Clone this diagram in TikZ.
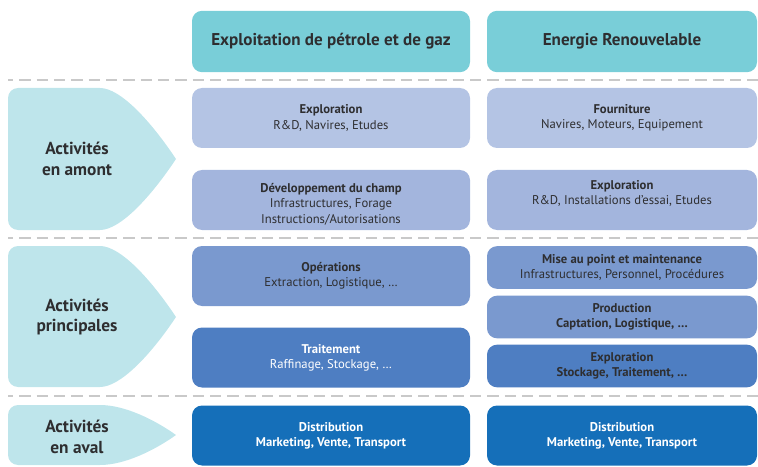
\documentclass[tikz,border=0pt]{standalone}
\usepackage{fontspec}
\setmainfont{PT Sans}
\definecolor{headcol}{HTML}{79CED8}
\definecolor{actcol}{HTML}{BEE5EB}
\definecolor{lvlA}{HTML}{B4C4E4}
\definecolor{lvlB}{HTML}{A3B5DD}
\definecolor{lvlC}{HTML}{7A99CF}
\definecolor{lvlD}{HTML}{4E7EC2}
\definecolor{lvlE}{HTML}{156FB9}
\definecolor{darktext}{HTML}{2E2E30}
\definecolor{sepgray}{HTML}{C9C9C9}

\begin{document}
\begin{tikzpicture}[x=0.75pt,y=-0.75pt,
  box node/.style={rounded corners=7.5pt,align=center,inner sep=2pt,text=darktext,
    font=\fontsize{9.5}{11.4}\selectfont},
  oil node/.style={box node,minimum width=208.5pt},
  ren node/.style={box node,minimum width=202.5pt},
  big node/.style={minimum height=45pt},
  small node/.style={minimum height=32pt},
  head node/.style={box node,fill=headcol,minimum height=46pt,
    font=\bfseries\fontsize{12.8}{15}\selectfont},
  act node/.style={align=center,text=darktext,font=\bfseries\fontsize{13}{15.5}\selectfont},
  sep line/.style={draw=sepgray,line width=1.2pt,dash pattern=on 8.5pt off 4.5pt,dash phase=4.5pt}]
  \useasboundingbox (0,0) rectangle (758,467);
  % separators
  \draw[sep line] (8,80) -- (758,80);
  \draw[sep line] (8,238) -- (758,238);
  \draw[sep line] (8,396) -- (758,396);
  % left arrows
  \fill[actcol] (100,88) .. controls (120,88) and (150,120) .. (176,159)
    .. controls (150,198) and (120,230) .. (100,230)
    [rounded corners=7.5pt] -- (8,230) -- (8,88) -- (100,88);
  \fill[actcol] (100,246) .. controls (120,246) and (150,278) .. (176,317)
    .. controls (150,356) and (120,387) .. (100,387)
    [rounded corners=7.5pt] -- (8,387) -- (8,246) -- (100,246);
  \fill[actcol] (100,405) .. controls (125,405) and (155,420) .. (176,435)
    .. controls (155,450) and (125,465) .. (100,465)
    [rounded corners=7.5pt] -- (8,465) -- (8,405) -- (100,405);
  \node[act node] (amont) at (77,159) {Activités\\en amont};
  \node[act node] (princ) at (77,317) {Activités\\principales};
  \node[act node] (aval)  at (77,437) {Activités\\en aval};
  % headers
  \node[head node,minimum width=208.5pt] (oil) at (331,41.5) {Exploitation de pétrole et de gaz};
  \node[head node,minimum width=202.5pt] (ren) at (622,41.5) {Energie Renouvelable};
  % oil & gas column
  \node[oil node,big node,fill=lvlA] (explo) at (331,118)
    {\textbf{Exploration}\\R\&D, Navires, Etudes};
  \node[oil node,big node,fill=lvlB] (dev) at (331,200) {};
  \node[box node] (devtext) at ([yshift=-3.2pt]dev.center)
    {\textbf{Développement du champ}\\Infrastructures, Forage\\Instructions/Autorisations};
  \node[oil node,big node,fill=lvlC] (oper) at (331,276)
    {\textbf{Opérations}\\Extraction, Logistique, …};
  \node[oil node,big node,fill=lvlD,text=white] (trait) at (331,357.5)
    {\textbf{Traitement}\\Raffinage, Stockage, …};
  \node[oil node,big node,fill=lvlE,text=white] (distr) at (331,435.5)
    {\textbf{Distribution}\\\textbf{Marketing, Vente, Transport}};
  % renewable column
  \node[ren node,big node,fill=lvlA] (fourn) at (622,118)
    {\textbf{Fourniture}\\Navires, Moteurs, Equipement};
  \node[ren node,big node,fill=lvlB] (rexplo) at (622,200) {};
  \node[box node] (rexplotext) at ([yshift=5pt]rexplo.center)
    {\textbf{Exploration}\\R\&D, Installations d’essai, Etudes};
  \node[ren node,small node,fill=lvlC] (mise) at (622,267.5)
    {\textbf{Mise au point et maintenance}\\Infrastructures, Personnel, Procédures};
  \node[ren node,small node,fill=lvlC] (prod) at (622,317)
    {\textbf{Production}\\\textbf{Captation, Logistique, …}};
  \node[ren node,small node,fill=lvlD] (stock) at (622,366)
    {\textbf{Exploration}\\\textbf{Stockage, Traitement, …}};
  \node[ren node,big node,fill=lvlE,text=white] (rdistr) at (622,435.5)
    {\textbf{Distribution}\\\textbf{Marketing, Vente, Transport}};
\end{tikzpicture}
\end{document}
